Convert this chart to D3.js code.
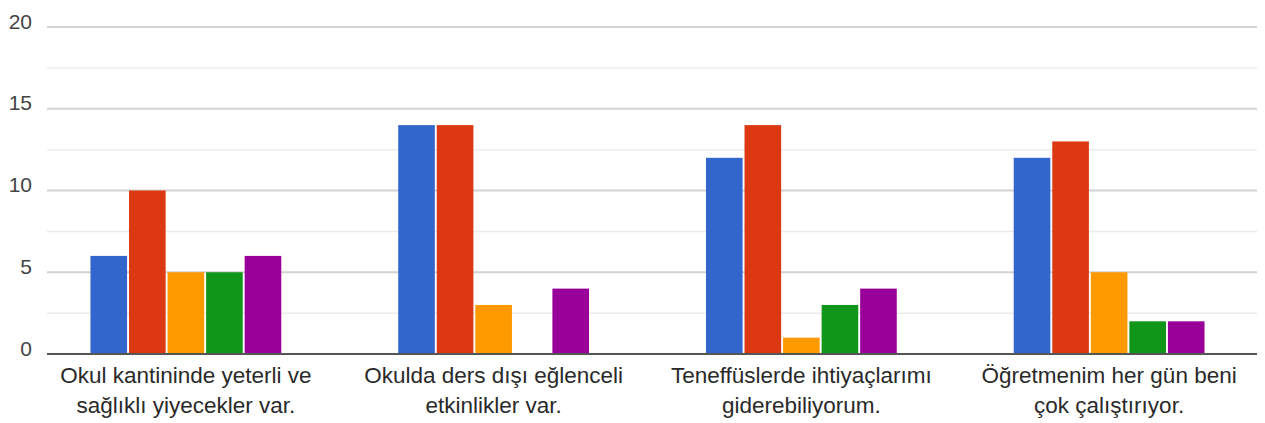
<!DOCTYPE html>
<html>
<head>
<meta charset="utf-8">
<script src="https://cdn.jsdelivr.net/npm/d3@7"></script>
<style>
  html, body { margin: 0; padding: 0; background: #fff; }
  svg { display: block; }
  text { font-family: "Liberation Sans", Arial, sans-serif; }
</style>
</head>
<body>
<svg id="chart" width="1265" height="423"></svg>
<script>
const categories = [
  ["Okul kantininde yeterli ve", "sağlıklı yiyecekler var."],
  ["Okulda ders dışı eğlenceli", "etkinlikler var."],
  ["Teneffüslerde ihtiyaçlarımı", "giderebiliyorum."],
  ["Öğretmenim her gün beni", "çok çalıştırıyor."]
];
const seriesNames = ["Seçenek 1", "Seçenek 2", "Seçenek 3", "Seçenek 4", "Seçenek 5"];
const series1 = [6, 14, 12, 12];
const series2 = [10, 14, 14, 13];
const series3 = [5, 3, 1, 5];
const series4 = [5, 0, 3, 2];
const series5 = [6, 4, 4, 2];
const seriesValues = [series1, series2, series3, series4, series5];
const colors = ["#3366cc", "#dc3912", "#ff9900", "#109618", "#990099"];
const yTicks = [0, 5, 10, 15, 20];
const yMinorTicks = [2.5, 7.5, 12.5, 17.5];

const svg = d3.select("#chart");
const gridLeft = 47, gridRight = 1257;

const x0 = d3.scaleBand()
  .domain(d3.range(categories.length))
  .range([32, 1263])
  .paddingInner(0.38)
  .paddingOuter(0.19);
const x1 = d3.scaleBand()
  .domain(d3.range(seriesNames.length))
  .range([0, x0.bandwidth()])
  .paddingInner(0.05);
const y = d3.scaleLinear().domain([0, 20]).range([354, 27]);

// minor gridlines
svg.append("g").selectAll("line").data(yMinorTicks).join("line")
  .attr("x1", gridLeft).attr("x2", gridRight)
  .attr("y1", d => y(d)).attr("y2", d => y(d))
  .attr("stroke", "#ececec").attr("stroke-width", 1.5);
// major gridlines
svg.append("g").selectAll("line").data(yTicks.filter(d => d !== 0)).join("line")
  .attr("x1", gridLeft).attr("x2", gridRight)
  .attr("y1", d => y(d)).attr("y2", d => y(d))
  .attr("stroke", "#d2d2d2").attr("stroke-width", 2);

// y labels
svg.append("g").selectAll("text").data(yTicks).join("text")
  .attr("x", 32).attr("y", d => y(d) - 4)
  .attr("text-anchor", "end")
  .attr("dominant-baseline", "middle")
  .attr("font-size", 21)
  .attr("fill", "#444")
  .text(d => d);

// bars
const groups = svg.append("g").selectAll("g").data(categories).join("g")
  .attr("transform", (d, i) => `translate(${x0(i)},0)`);
groups.selectAll("rect")
  .data((d, i) => seriesValues.map((s, k) => ({ k, v: s[i] })))
  .join("rect")
  .attr("x", d => x1(d.k))
  .attr("width", x1.bandwidth())
  .attr("y", d => y(d.v))
  .attr("height", d => y(0) - y(d.v))
  .attr("fill", d => colors[d.k]);

// baseline
svg.append("line")
  .attr("x1", gridLeft).attr("x2", gridRight)
  .attr("y1", y(0)).attr("y2", y(0))
  .attr("stroke", "#555").attr("stroke-width", 2);

// x labels
const xl = svg.append("g").selectAll("text").data(categories).join("text")
  .attr("text-anchor", "middle")
  .attr("font-size", 22.5)
  .attr("fill", "#2a2a2a");
xl.each(function(d, i) {
  const t = d3.select(this);
  d.forEach((line, j) => {
    t.append("tspan")
      .attr("x", x0(i) + x0.bandwidth() / 2)
      .attr("y", 383 + j * 29.5)
      .text(line);
  });
});
</script>
</body>
</html>
